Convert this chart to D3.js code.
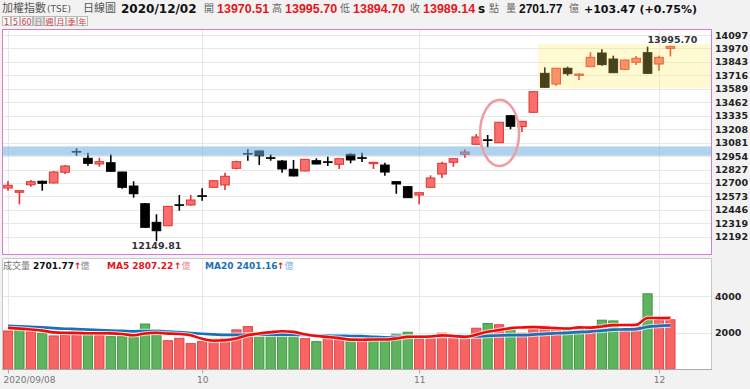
<!DOCTYPE html>
<html>
<head>
<meta charset="utf-8">
<script src="https://cdn.jsdelivr.net/npm/d3@7"></script>
<style>
  body { margin: 0; background: #f2f2f2; }
  svg { font-family: "DejaVu Sans", "Noto Sans CJK TC", sans-serif; display: block; }
</style>
</head>
<body>
<svg id="chart" width="750" height="389"></svg>
<script>
// daily candles, TAIEX 2020/09/08 - 2020/12/02
var dates = ["2020/09/08","2020/09/09","2020/09/10","2020/09/11","2020/09/14","2020/09/15","2020/09/16","2020/09/17","2020/09/18","2020/09/21","2020/09/22","2020/09/23","2020/09/24","2020/09/25","2020/09/28","2020/09/29","2020/09/30",
  "2020/10/05","2020/10/06","2020/10/07","2020/10/08","2020/10/12","2020/10/13","2020/10/14","2020/10/15","2020/10/16","2020/10/19","2020/10/20","2020/10/21","2020/10/22","2020/10/23","2020/10/26","2020/10/27","2020/10/28","2020/10/29","2020/10/30",
  "2020/11/02","2020/11/03","2020/11/04","2020/11/05","2020/11/06","2020/11/09","2020/11/10","2020/11/11","2020/11/12","2020/11/13","2020/11/16","2020/11/17","2020/11/18","2020/11/19","2020/11/20","2020/11/23","2020/11/24","2020/11/25","2020/11/26","2020/11/27","2020/11/30",
  "2020/12/01","2020/12/02"];

var open = [12652,12612,12683,12716,12700,12801,12997,12933,12879,12891,
  12803,12671,12504,12328,12296,12494,12492,12579,12659,12681,
  12838,12978,13002,12938,12907,12829,12813,12910,12900,12876,
  12970,12938,12882,12869,12712,12665,12586,12659,12784,12895,
  12970,13065,13107,13080,13335,13232,13367,13735,13634,13783,
  13716,13798,13927,13870,13773,13839,13930,13823,13970.51];
var high = [12718,12630,12728,12722,12813,12869,13027,12986,12938,12970,
  12806,12716,12508,12404,12482,12586,12586,12649,12724,12797,
  12910,13018,13005,12970,12917,12917,12926,12933,12948,12932,
  12980,12986,12898,12891,12715,12668,12611,12772,12901,12932,
  13018,13162,13153,13276,13338,13285,13565,13792,13786,13798,
  13735,13934,13962,13902,13864,13899,13987,13902,13995.70];
var low = [12627,12498,12665,12627,12697,12784,12957,12863,12853,12806,
  12646,12561,12278,12149.81,12293,12438,12485,12532,12656,12633,
  12829,12910,12869,12910,12797,12763,12810,12876,12860,12832,
  12885,12898,12832,12768,12598,12558,12498,12656,12747,12853,
  12939,13062,13037,13077,13207,13181,13364,13600,13618,13713,
  13672,13795,13807,13738,13770,13814,13732,13760,13894.70];
var close = [12678,12627,12712,12697,12803,12860,12993,12885,12901,12810,
  12659,12598,12281,12249,12479,12490,12539,12575,12721,12763,
  12901,12974,12957,12934,12832,12766,12923,12879,12896,12929,
  12917,12934,12895,12803,12690,12561,12608,12747,12885,12929,
  12992,13134,13103,13273,13235,13282,13562,13603,13783,13732,
  13728,13886,13817,13741,13861,13877,13735,13885.67,13989.14];
var prevClose = 12600;

// volume, 億
var volume = [2090,2150,2050,1970,1820,1970,2110,1970,1970,1780,
  1780,1780,2470,2150,1560,1690,1400,1510,1640,1690,
  2150,2330,1970,1970,1970,1970,1670,1510,1690,1670,
  1550,1640,1600,1690,1910,2020,1660,1690,1970,1750,
  1780,2240,2500,2430,2280,1970,2350,2350,2280,2180,
  2280,2280,2680,2640,2200,2350,4120,2660,2701.77];
// sessions before 09/08, only needed for the moving averages
var prevVolume = [2600,2650,2480,2550,2700,2500,2480,2550,2300,2150,2250,2200,2100,2300,2200,2350,2300,2250,2300];

var priceTicks = [14097,13970,13843,13716,13589,13462,13335,13208,13081,12954,12827,12700,12573,12446,12319,12192];
var volTicks = [2000, 4000];
var monthTicks = ["2020/09/08","2020/10/05","2020/11/02","2020/12/01"];
var monthLabels = ["2020/09/08","10","11","12"];
var ma5Label = "2807.22", ma20Label = "2401.16";
var blueBand = [12957, 13045];
var yellowBand = [13594, 14012];
var yellowFrom = "2020/11/17";
var circleAt = ["2020/11/11", 13172, 312];

var RED = "#e4161c";
var candleRed = "#f96e6e", candleRedLine = "#e2332f";
var volRed = "#f86464", volRedLine = "#e04545";
var volGreen = "#5fb35f", volGreenLine = "#3c9a3c";

var svg = d3.select('#chart');
var n = dates.length;

var x = d3.scalePoint().domain(dates).range([8, 670.4]);
var step = x.step();
var yP = d3.scaleLinear().domain([12192, 14097]).range([236.75, 35]);
var yV = d3.scaleLinear().domain([0, 4000]).range([369.3, 296]);

var data = dates.map(function(d, i) {
  return {date: d, o: open[i], h: high[i], l: low[i], c: close[i], v: volume[i],
          pc: i ? close[i-1] : prevClose};
});

var allVol = prevVolume.concat(volume);
function movingAvg(k) {
  return volume.map(function(v, i) {
    var end = i + prevVolume.length + 1;
    return d3.mean(allVol.slice(end - k, end));
  });
}
var ma5 = movingAvg(5), ma20 = movingAvg(20);

// panels
svg.append('rect').attr('width', 750).attr('height', 389).attr('fill', '#f2f2f2');
svg.append('rect').attr('x', 2).attr('y', 29).attr('width', 710).attr('height', 226).attr('fill', '#fff');
svg.append('rect').attr('x', 2).attr('y', 258).attr('width', 710).attr('height', 111.3).attr('fill', '#fff');

// grid
var grid = svg.append('g').attr('stroke', '#e8e8e8').attr('stroke-width', 1);
grid.selectAll('.hp').data(priceTicks).enter().append('line')
  .attr('x1', 2).attr('x2', 712)
  .attr('y1', function(d){ return Math.round(yP(d)) + 0.5; })
  .attr('y2', function(d){ return Math.round(yP(d)) + 0.5; });
grid.selectAll('.hv').data(volTicks).enter().append('line')
  .attr('x1', 2).attr('x2', 712)
  .attr('y1', function(d){ return Math.round(yV(d)) + 0.5; })
  .attr('y2', function(d){ return Math.round(yV(d)) + 0.5; });
grid.selectAll('.vm').data(monthTicks).enter().append('line')
  .attr('x1', function(d){ return Math.round(x(d)) + 0.5; })
  .attr('x2', function(d){ return Math.round(x(d)) + 0.5; })
  .attr('y1', 29).attr('y2', 255);
grid.selectAll('.vv').data(monthTicks).enter().append('line')
  .attr('x1', function(d){ return Math.round(x(d)) + 0.5; })
  .attr('x2', function(d){ return Math.round(x(d)) + 0.5; })
  .attr('y1', 258).attr('y2', 369);

// candles
var bodyW = 8.6;
var candle = svg.append('g').selectAll('g').data(data).enter().append('g');
candle.append('line')
  .attr('x1', function(d){ return x(d.date); })
  .attr('x2', function(d){ return x(d.date); })
  .attr('y1', function(d){ return yP(d.h); })
  .attr('y2', function(d){ return yP(d.l); })
  .attr('stroke', function(d){ return d.c > d.o ? candleRedLine : '#000'; })
  .attr('stroke-width', 1.6);
candle.append('rect')
  .attr('x', function(d){ return x(d.date) - bodyW/2; })
  .attr('y', function(d){ return yP(Math.max(d.o, d.c)); })
  .attr('width', bodyW)
  .attr('height', function(d){ return Math.max(0.6, yP(Math.min(d.o, d.c)) - yP(Math.max(d.o, d.c))); })
  .attr('fill', function(d){ return d.c > d.o ? candleRed : '#000'; })
  .attr('stroke', function(d){ return d.c > d.o ? candleRedLine : '#000'; })
  .attr('stroke-width', 1);

// bands and the circle
svg.append('rect')
  .attr('x', 2).attr('width', 710)
  .attr('y', yP(blueBand[1]))
  .attr('height', yP(blueBand[0]) - yP(blueBand[1]))
  .attr('fill', 'rgb(110,175,220)').attr('fill-opacity', 0.55);
svg.append('rect')
  .attr('x', x(yellowFrom) - step/2 - 1)
  .attr('width', 712 - (x(yellowFrom) - step/2 - 1))
  .attr('y', yP(yellowBand[1]))
  .attr('height', yP(yellowBand[0]) - yP(yellowBand[1]))
  .attr('fill', 'rgb(255,236,90)').attr('fill-opacity', 0.28);
svg.append('ellipse')
  .attr('cx', x(circleAt[0]) + 0.5)
  .attr('cy', yP(circleAt[1]))
  .attr('rx', 19.5)
  .attr('ry', yP(circleAt[1] - circleAt[2]) - yP(circleAt[1]))
  .attr('fill', 'none').attr('stroke', '#ee9ea3').attr('stroke-width', 2.6);

// high / low notes
var hiIdx = d3.maxIndex(high), loIdx = d3.minIndex(low);
svg.append('text').attr('x', x(dates[hiIdx]) + 2).attr('y', yP(high[hiIdx]) - 3)
  .attr('text-anchor', 'middle').attr('font-size', 9.5).attr('font-weight', 'bold').attr('fill', '#333')
  .text(high[hiIdx].toFixed(2));
svg.append('text').attr('x', x(dates[loIdx])).attr('y', yP(low[loIdx]) + 8)
  .attr('text-anchor', 'middle').attr('font-size', 9.5).attr('font-weight', 'bold').attr('fill', '#333')
  .text(low[loIdx].toFixed(2));

// volume bars
var volUp = function(d){ return d.c >= d.pc; };
svg.append('g').selectAll('rect').data(data).enter().append('rect')
  .attr('x', function(d){ return x(d.date) - 4.6; })
  .attr('y', function(d){ return yV(d.v); })
  .attr('width', 9.2)
  .attr('height', function(d){ return yV(0) - yV(d.v); })
  .attr('fill', function(d){ return volUp(d) ? volRed : volGreen; })
  .attr('stroke', function(d){ return volUp(d) ? volRedLine : volGreenLine; })
  .attr('stroke-width', 1);

// moving averages
function maLine(vals, color, w) {
  var line = d3.line()
    .x(function(d, i){ return x(dates[i]); })
    .y(function(d){ return yV(d); })
    .curve(d3.curveMonotoneX);
  svg.append('path').attr('d', line(vals)).attr('fill', 'none')
    .attr('stroke', '#fff').attr('stroke-opacity', 0.7).attr('stroke-width', w + 2);
  svg.append('path').attr('d', line(vals)).attr('fill', 'none')
    .attr('stroke', color).attr('stroke-width', w);
}
maLine(ma20, '#1b6fb8', 2.7);
maLine(ma5, '#f00a0a', 2.6);

// frames
svg.append('rect').attr('x', 2.5).attr('y', 29.5).attr('width', 709).attr('height', 225)
  .attr('fill', 'none').attr('stroke', '#d47bd4');
svg.append('path').attr('d', 'M2.5,258.5H711.5V369.5H2.5Z')
  .attr('fill', 'none').attr('stroke', '#c8c8c8');
svg.append('line').attr('x1', 2).attr('x2', 712).attr('y1', 369.5).attr('y2', 369.5).attr('stroke', '#aaa');

// axes
var yAxis = svg.append('g').attr('transform', 'translate(713,0)')
  .call(d3.axisRight(yP).tickValues(priceTicks).tickSize(0).tickPadding(2).tickFormat(d3.format('d')));
var vAxis = svg.append('g').attr('transform', 'translate(713,0)')
  .call(d3.axisRight(yV).tickValues(volTicks).tickSize(0).tickPadding(2).tickFormat(d3.format('d')));
[yAxis, vAxis].forEach(function(a) {
  a.select('.domain').remove();
  a.selectAll('text').attr('font-family', '"DejaVu Sans", sans-serif')
    .attr('font-size', 9.5).attr('font-weight', 'bold').attr('fill', '#222');
});

var xAxis = svg.append('g').attr('transform', 'translate(0,369.5)')
  .call(d3.axisBottom(x).tickValues(monthTicks).tickSize(4).tickPadding(3)
    .tickFormat(function(d, i){ return monthLabels[i]; }));
xAxis.select('.domain').remove();
xAxis.selectAll('line').attr('stroke', '#aaa');
xAxis.selectAll('text').attr('font-family', '"DejaVu Sans", sans-serif')
  .attr('font-size', 9).attr('fill', '#777');
xAxis.select('.tick text').attr('text-anchor', 'start').attr('dx', -5);

// header
var last = data[n - 1];
var chg = last.c - last.pc;
function put(g, t, px, py, opts) {
  var el = g.append('text').attr('x', px).attr('y', py).text(t);
  for (var k in opts) el.attr(k, opts[k]);
  return el;
}
var head = svg.append('g');
var cjk = {'font-size': 11, fill: '#555', 'font-family': '"Noto Sans CJK TC", sans-serif'};
var cjkS = {'font-size': 10, fill: '#666', 'font-family': '"Noto Sans CJK TC", sans-serif'};
var num = {'font-size': 12.5, 'font-weight': 'bold', fill: RED, 'font-family': '"Liberation Sans", sans-serif'};
put(head, '加權指數', 2, 12, cjk);
put(head, '(TSE)', 47, 12, {'font-size': 9, fill: '#555'});
put(head, '日線圖', 83, 12, cjk);
put(head, last.date, 121, 12.5, {'font-size': 12, 'font-weight': 'bold', fill: '#111'});
put(head, '開', 204, 12, cjkS);
put(head, last.o.toFixed(2), 217, 12.5, num);
put(head, '高', 272, 12, cjkS);
put(head, last.h.toFixed(2), 285, 12.5, num);
put(head, '低', 340, 12, cjkS);
put(head, last.l.toFixed(2), 353, 12.5, num);
put(head, '收', 410, 12, cjkS);
put(head, last.c.toFixed(2), 423, 12.5, num);
put(head, 's', 478, 12.5, {'font-size': 12, 'font-weight': 'bold', fill: '#111'});
put(head, '點', 489, 12, cjkS);
put(head, '量', 506, 12, cjkS);
put(head, last.v.toFixed(2), 519, 12.5, {'font-size': 12, 'font-weight': 'bold', fill: '#111', 'font-family': '"Liberation Sans", sans-serif'});
put(head, '億', 569, 12, cjkS);
put(head, (chg >= 0 ? '+' : '') + chg.toFixed(2) + ' (' + (chg >= 0 ? '+' : '') + (chg / last.pc * 100).toFixed(2) + '%)',
    584, 12.5, {'font-size': 11, 'font-weight': 'bold', fill: '#111'});

// period buttons
var buttons = ['1','5','60','日','週','月','季','年'];
var bw = [8, 8, 12, 10, 10, 10, 10, 10];
var bx = 2;
buttons.forEach(function(b, i) {
  var active = b === '日';
  head.append('rect').attr('x', bx + 0.5).attr('y', 16.5).attr('width', bw[i]).attr('height', 9)
    .attr('fill', active ? '#ddd' : '#f7f7f7').attr('stroke', '#bbb');
  head.append('text').attr('x', bx + 0.5 + bw[i]/2).attr('y', 24.5).attr('text-anchor', 'middle')
    .attr('font-size', 8).attr('fill', active ? '#888' : '#d04040').text(b);
  bx += bw[i] + 1;
});

// volume legend
var leg = svg.append('g');
function legPart(t, px, color, bold) {
  var el = put(leg, t, px, 268.5, {'font-size': 9, fill: color});
  if (bold) el.attr('font-weight', 'bold');
  return el;
}
legPart('成交量', 3, '#777', false).attr('font-family', '"Noto Sans CJK TC", sans-serif');
legPart(last.v.toFixed(2), 33, '#111', true);
legPart('↑', 74, RED, true);
legPart('億', 80.5, '#888', false).attr('font-family', '"Noto Sans CJK TC", sans-serif');
legPart('MA5 ' + ma5Label, 107, RED, true);
legPart('↑', 174, RED, true);
legPart('億', 181.5, '#f08a8a', false).attr('font-family', '"Noto Sans CJK TC", sans-serif');
legPart('MA20 ' + ma20Label, 205, '#1b6fb8', true);
legPart('↑', 277, RED, true);
legPart('億', 284.5, '#7fb0e0', false).attr('font-family', '"Noto Sans CJK TC", sans-serif');
</script>
</body>
</html>
